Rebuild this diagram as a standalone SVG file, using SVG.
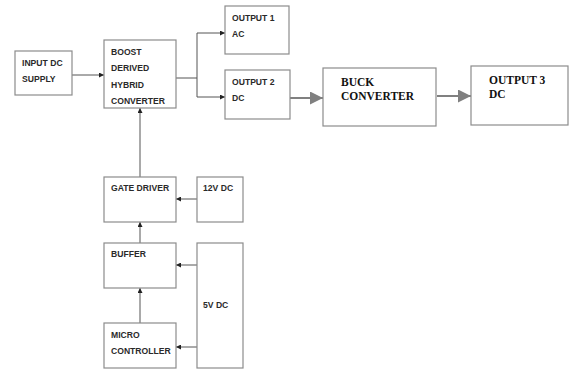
<svg xmlns="http://www.w3.org/2000/svg" width="571" height="369" viewBox="0 0 571 369">
<style>
.box{fill:#fff;stroke:#8c8c8c;stroke-width:1.2}
.t{font-family:"Liberation Sans",Arial,sans-serif;font-weight:bold;font-size:8.6px;fill:#2a2a2a}
.s{font-family:"Liberation Serif","Times New Roman",serif;font-weight:bold;font-size:11.5px;fill:#111}
.c{fill:none;stroke:#555;stroke-width:1}
.g{fill:none;stroke:#808080;stroke-width:2.2}
</style>
<defs>
<marker id="a" viewBox="0 0 6 6" refX="6" refY="3" markerWidth="5" markerHeight="5" markerUnits="userSpaceOnUse" orient="auto">
<path d="M0,0 L6,3 L0,6 z" fill="#222"/>
</marker>
<marker id="b" viewBox="0 0 10 10" refX="10" refY="5" markerWidth="14" markerHeight="13" markerUnits="userSpaceOnUse" orient="auto">
<path d="M0,0 L10,5 L0,10 z" fill="#808080"/>
</marker>
</defs>
<g id="connectors">
<line class="c" x1="72" y1="75" x2="104" y2="75" marker-end="url(#a)"/>
<polyline class="c" points="176,78 197,78"/>
<line class="c" x1="197" y1="33" x2="197" y2="97"/>
<line class="c" x1="197" y1="33" x2="225" y2="33" marker-end="url(#a)"/>
<line class="c" x1="197" y1="97" x2="225" y2="97" marker-end="url(#a)"/>
<line class="c" x1="140" y1="177" x2="140" y2="108" marker-end="url(#a)"/>
<line class="c" x1="197" y1="199" x2="176" y2="199" marker-end="url(#a)"/>
<line class="c" x1="140" y1="243" x2="140" y2="222" marker-end="url(#a)"/>
<line class="c" x1="197" y1="265" x2="176" y2="265" marker-end="url(#a)"/>
<line class="c" x1="197" y1="347" x2="176" y2="347" marker-end="url(#a)"/>
<line class="c" x1="140" y1="323" x2="140" y2="288" marker-end="url(#a)"/>
<line class="g" x1="290" y1="98" x2="323" y2="98" marker-end="url(#b)"/>
<line class="g" x1="437" y1="96" x2="471" y2="96" marker-end="url(#b)"/>
</g>
<g id="input">
<rect class="box" x="15" y="51" width="57" height="44"/>
<text class="t" x="22" y="66">INPUT DC</text>
<text class="t" x="22" y="82">SUPPLY</text>
</g>
<g id="boost">
<rect class="box" x="104" y="40" width="72" height="68"/>
<text class="t" x="111" y="55">BOOST</text>
<text class="t" x="111" y="71">DERIVED</text>
<text class="t" x="111" y="88">HYBRID</text>
<text class="t" x="111" y="104">CONVERTER</text>
</g>
<g id="output1">
<rect class="box" x="225" y="6" width="64" height="48"/>
<text class="t" x="232" y="21">OUTPUT 1</text>
<text class="t" x="232" y="37">AC</text>
</g>
<g id="output2">
<rect class="box" x="225" y="70" width="65" height="49"/>
<text class="t" x="232" y="85">OUTPUT 2</text>
<text class="t" x="232" y="101">DC</text>
</g>
<g id="buck">
<rect class="box" x="323" y="68" width="113" height="58"/>
<text class="s" x="341" y="86">BUCK</text>
<text class="s" x="341" y="100">CONVERTER</text>
</g>
<g id="output3">
<rect class="box" x="471" y="66" width="97" height="59"/>
<text class="s" x="489" y="84" font-size="11">OUTPUT 3</text>
<text class="s" x="489" y="98" font-size="11">DC</text>
</g>
<g id="gate">
<rect class="box" x="104" y="177" width="72" height="45"/>
<text class="t" x="111" y="191">GATE DRIVER</text>
</g>
<g id="v12">
<rect class="box" x="197" y="177" width="46" height="45"/>
<text class="t" x="203" y="191">12V DC</text>
</g>
<g id="buffer">
<rect class="box" x="104" y="243" width="72" height="45"/>
<text class="t" x="111" y="257">BUFFER</text>
</g>
<g id="v5">
<rect class="box" x="197" y="243" width="46" height="125"/>
<text class="t" x="203" y="308">5V DC</text>
</g>
<g id="micro">
<rect class="box" x="104" y="323" width="72" height="45"/>
<text class="t" x="111" y="338">MICRO</text>
<text class="t" x="111" y="354">CONTROLLER</text>
</g>
</svg>
